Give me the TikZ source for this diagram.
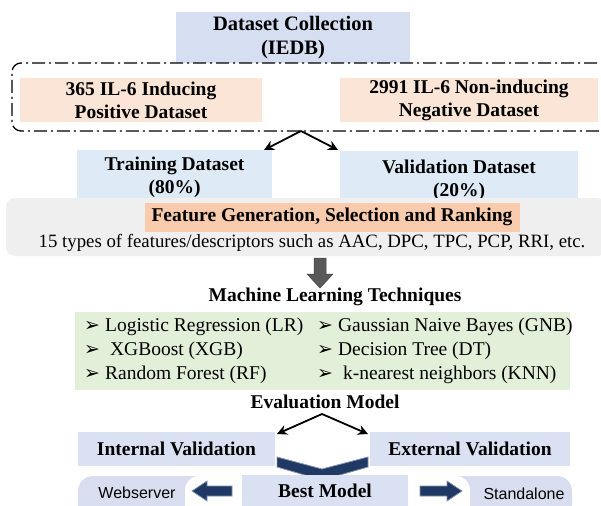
\documentclass[tikz,border=0pt]{standalone}
\usepackage{fontspec}
\setmainfont{Liberation Serif}
\newfontfamily\sansf{Liberation Sans}
\newfontfamily\symf{DejaVu Sans}
\usetikzlibrary{arrows.meta}
\definecolor{dcblue}{HTML}{D5DFF1}
\definecolor{tvblue}{HTML}{DEEAF6}
\definecolor{ivblue}{HTML}{D9E1F2}
\definecolor{pinkf}{HTML}{FBE5D6}
\definecolor{orangef}{HTML}{F8CBAD}
\definecolor{greenf}{HTML}{E2F0D9}
\definecolor{grayf}{HTML}{EFEFEF}
\definecolor{navy}{HTML}{1F3864}
\definecolor{pillblue}{HTML}{D8DEF0}
\newcommand{\bul}{{\symf\bfseries\fontsize{19}{20}\selectfont ➢}}
\begin{document}
\begin{tikzpicture}[x=1pt,y=-1pt,
  box/.style={inner sep=0pt,align=center,font=\fontsize{19.5}{23}\selectfont\bfseries},
  plain/.style={inner sep=0pt,font=\fontsize{18.8}{22}\selectfont},
  bullet/.style={inner sep=0pt,anchor=west,font=\fontsize{19.5}{22}\selectfont},
  conn/.style={-{Stealth[length=10pt,width=10pt]},line width=1.8pt},
  navyshape/.style={fill=navy,draw=navy!55!white,line width=0.8pt}]
\useasboundingbox (0,0) rectangle (601,505);
\fill[white] (0,0) rectangle (601,505);
% top
\node[box,font=\fontsize{20.5}{24}\selectfont\bfseries,fill=dcblue,minimum width=234,minimum height=51] (dc) at (293,37.5) {Dataset Collection\\(IEDB)};
\draw[line width=1.3pt,dash pattern=on 13pt off 4pt on 2pt off 4pt,rounded corners=9] (620,63) -- (12,63) -- (12,131) -- (620,131);
\node[box,fill=pinkf,minimum width=242,minimum height=44] (pos) at (141,100) {365 IL-6 Inducing\\Positive Dataset};
\node[box,fill=pinkf,minimum width=258,minimum height=44] (neg) at (469,100) {2991 IL-6 Non-inducing\\Negative Dataset};
\coordinate (split1) at (301,131);
\coordinate (tl) at (264,150);
\coordinate (tr) at (338,150);
\draw[conn] (split1) -- (tl);
\draw[conn] (split1) -- (tr);
\node[box,fill=tvblue,minimum width=195,minimum height=55] (train) at (174.5,177.5) {Training Dataset\\(80\%)};
\node[box,fill=tvblue,minimum width=238,minimum height=58] (valid) at (459,180) {Validation Dataset\\(20\%)};
% features
\node[fill=grayf,rounded corners=9,minimum width=600,minimum height=58,inner sep=0pt] (feat) at (306,227) {};
\node[box,fill=orangef,minimum width=375,minimum height=29] (fg) at (332,217) {Feature Generation, Selection and Ranking};
\node[plain] (types) at (312,243) {15 types of features/descriptors such as AAC, DPC, TPC, PCP, RRI, etc.};
\coordinate (dtop) at (320,258);
\filldraw[fill=black!65,draw=black!75,line width=0.5pt] (314,258) -- (326,258) -- (326,274) -- (333,274) -- (320,288) -- (307,274) -- (314,274) -- cycle;
\node[box] (mlt) at (335,297) {Machine Learning Techniques};
% ML box
\node[fill=greenf,minimum width=495,minimum height=78,inner sep=0pt] (ml) at (322.5,351) {};
\node[bullet] (b1) at (84,327) {\bul\hspace{5pt}Logistic Regression (LR)};
\node[bullet] (b2) at (84,351) {\bul\hspace{10pt}XGBoost (XGB)};
\node[bullet] (b3) at (84,375) {\bul\hspace{5pt}Random Forest (RF)};
\node[bullet] (b4) at (317,327) {\bul\hspace{5pt}Gaussian Naive Bayes (GNB)};
\node[bullet] (b5) at (317,351) {\bul\hspace{5pt}Decision Tree (DT)};
\node[bullet] (b6) at (317,375) {\bul\hspace{10pt}k-nearest neighbors (KNN)};
\node[box] (eval) at (325,402) {Evaluation Model};
% evaluation
\coordinate (split2) at (322,414);
\coordinate (el) at (277,434);
\coordinate (er) at (368,434);
\draw[conn] (split2) -- (el);
\draw[conn] (split2) -- (er);
\node[box,fill=ivblue,minimum width=197,minimum height=34] (int) at (176.5,449) {Internal Validation};
\node[box,fill=ivblue,minimum width=200,minimum height=34] (ext) at (470,449) {External Validation};
\filldraw[navyshape] (277,457) -- (322,469) -- (368,457) -- (368,467) -- (322,480) -- (277,467) -- cycle;
% bottom
\fill[pillblue,rounded corners=15] (78,476) rectangle (240,520);
\fill[white,rounded corners=14] (185,476) rectangle (242,520);
\fill[pillblue,rounded corners=15] (408,476) rectangle (572,520);
\fill[white,rounded corners=14] (406,476) rectangle (470,520);
\node[box,fill=ivblue,minimum width=166,minimum height=32,anchor=north] (best) at (325,475) {Best Model};
\node[inner sep=0pt,font=\sansf\fontsize{16}{19}\selectfont] (web) at (137,493) {Webserver};
\node[inner sep=0pt,font=\sansf\fontsize{16}{19}\selectfont] (stand) at (524,494) {Standalone};
\filldraw[navyshape] (192,491) -- (207,481) -- (207,486) -- (232,486) -- (232,496) -- (207,496) -- (207,501) -- cycle;
\filldraw[navyshape] (462,491) -- (447,481) -- (447,486) -- (420,486) -- (420,496) -- (447,496) -- (447,501) -- cycle;
\end{tikzpicture}
\end{document}
